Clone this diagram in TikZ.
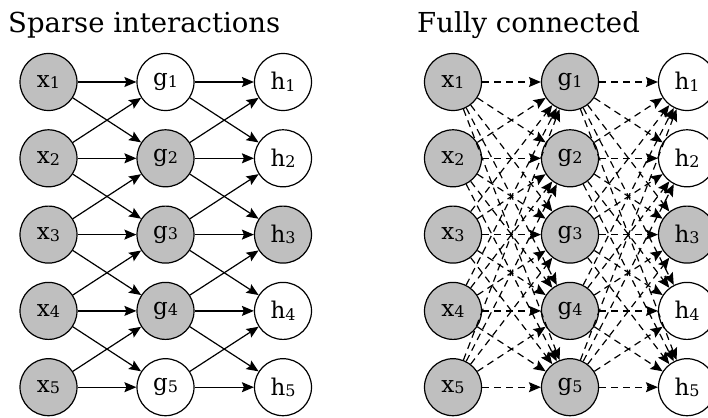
\documentclass[tikz,border=0pt]{standalone}
\usepackage{fontspec}
\setmainfont{DejaVu Serif}
\usetikzlibrary{arrows.meta}
\definecolor{nodegray}{RGB}{191,191,191}
\newcommand\unitlab[2]{#1\raisebox{-1.5pt}{\fontsize{16}{16}\selectfont #2}}
\begin{document}
\begin{tikzpicture}[x=1pt,y=-1pt,
  unit/.style={circle,draw,line width=1.2pt,minimum size=57pt,inner sep=0pt,font=\fontsize{23}{23}\selectfont},
  shaded/.style={unit,fill=nodegray},
  plain/.style={unit,fill=white},
  conn/.style={line width=1.2pt,-{Stealth[length=12pt,width=10pt,inset=2pt]}},
  fconn/.style={conn,dash pattern=on 7pt off 5pt},
  title/.style={font=\fontsize{27.5}{27.5}\selectfont,anchor=base west,inner sep=0pt}]
\useasboundingbox (0,0) rectangle (708,417);
\node[title] (t1) at (8,33) {Sparse interactions};
\node[title] (t2) at (417,33) {Fully connected};
\foreach \i/\gs/\hs in {1/plain/plain,2/shaded/plain,3/shaded/shaded,4/shaded/plain,5/plain/plain}{
  \pgfmathsetmacro\yy{82+76.3*(\i-1)}
  \node[shaded] (sx\i) at (48.5,\yy) {\unitlab{x}{\i}};
  \node[\gs] (sg\i) at (165.5,\yy) {\unitlab{g}{\i}};
  \node[\hs] (sh\i) at (283,\yy) {\unitlab{h}{\i}};
  \node[shaded] (fx\i) at (453,\yy) {\unitlab{x}{\i}};
  \node[shaded] (fg\i) at (570,\yy) {\unitlab{g}{\i}};
  \node[\hs] (fh\i) at (687,\yy) {\unitlab{h}{\i}};
}
\foreach \i in {1,...,5}{
  \foreach \j in {1,...,5}{
    \pgfmathtruncatemacro\d{abs(\i-\j)}
    \ifnum\d<2
      \draw[conn] (sx\i) -- (sg\j);
      \draw[conn] (sg\i) -- (sh\j);
    \fi
    \draw[fconn] (fx\i) -- (fg\j);
    \draw[fconn] (fg\i) -- (fh\j);
  }
}
\end{tikzpicture}
\end{document}
